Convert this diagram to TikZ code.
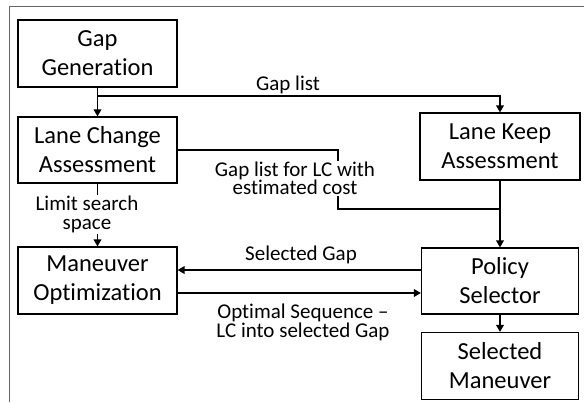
\documentclass[tikz,border=0pt]{standalone}
\usepackage{fontspec}
\setmainfont{Carlito}[Ligatures=NoCommon]
\usetikzlibrary{arrows.meta}

\tikzset{
  blk/.style={draw=black, line width=1.1pt, fill=white, align=center,
    inner sep=0pt, font=\fontsize{24.5}{29}\selectfont},
  conn/.style={line width=1.7pt, black},
  arr/.style={-{Triangle[length=7pt,width=7.5pt]}},
  lab/.style={align=center, inner sep=1pt, fill=white,
    font=\fontsize{21}{18.5}\selectfont},
  frameline/.style={draw=black!60, line width=0.9pt}
}

\begin{document}
\begin{tikzpicture}[x=1pt, y=-1pt]
  \useasboundingbox (0,0) rectangle (584,402);

  % outer frame (top and left edges)
  \draw[frameline] (9,402) -- (9,6) -- (584,6);

  % blocks
  \node[blk, minimum width=159pt, minimum height=67pt] (gg)  at (97.5,53.5) {Gap\\Generation};
  \node[blk, minimum width=159pt, minimum height=66pt] (lca) at (97.5,150) {Lane Change\\Assessment};
  \node[blk, minimum width=160pt, minimum height=67pt] (lka) at (500,146.5) {Lane Keep\\Assessment};
  \node[blk, minimum width=159pt, minimum height=67pt] (mo)  at (97.5,280.5) {Maneuver\\Optimization};
  \node[blk, minimum width=157pt, minimum height=66pt] (ps)  at (500,281) {Policy\\Selector};
  \node[blk, minimum width=157pt, minimum height=67pt] (sm)  at (500,366) {Selected\\Maneuver};

  % helper points
  \coordinate (split)  at (97.5,96);
  \coordinate (bendA)  at (338,150);
  \coordinate (bendB)  at (338,209);
  \coordinate (merge)  at (500,209);
  \coordinate (selrow) at (0,270);
  \coordinate (optrow) at (0,293);

  % connectors
  \draw[conn, arr] (gg.south) -- (lca.north);
  \draw[conn, arr] (split) -| (lka.north);
  \draw[conn] (lca.east |- bendA) -- (bendA) -- (bendB) -- (merge);
  \draw[conn, arr] (lka.south) -- (ps.north);
  \draw[conn, arr] (lca.south) -- (mo.north);
  \draw[conn, arr] (ps.west |- selrow) -- (mo.east |- selrow);
  \draw[conn, arr] (mo.east |- optrow) -- (ps.west |- optrow);
  \draw[conn, arr] (ps.south) -- (sm.north);

  % connector labels
  \node[lab, fill=none, anchor=base] (lgap) at (288,90) {Gap list};
  \node[lab] (lgaplc) at (295,178.5) {Gap list for LC with\\estimated cost};
  \node[lab] (llimit) at (87,214.5) {Limit search\\space};
  \node[lab, fill=none, anchor=base] (lsel) at (301,260) {Selected Gap};
  \node[lab, fill=none] (lopt) at (303,322.5) {Optimal Sequence –\\LC into selected Gap};
\end{tikzpicture}
\end{document}
